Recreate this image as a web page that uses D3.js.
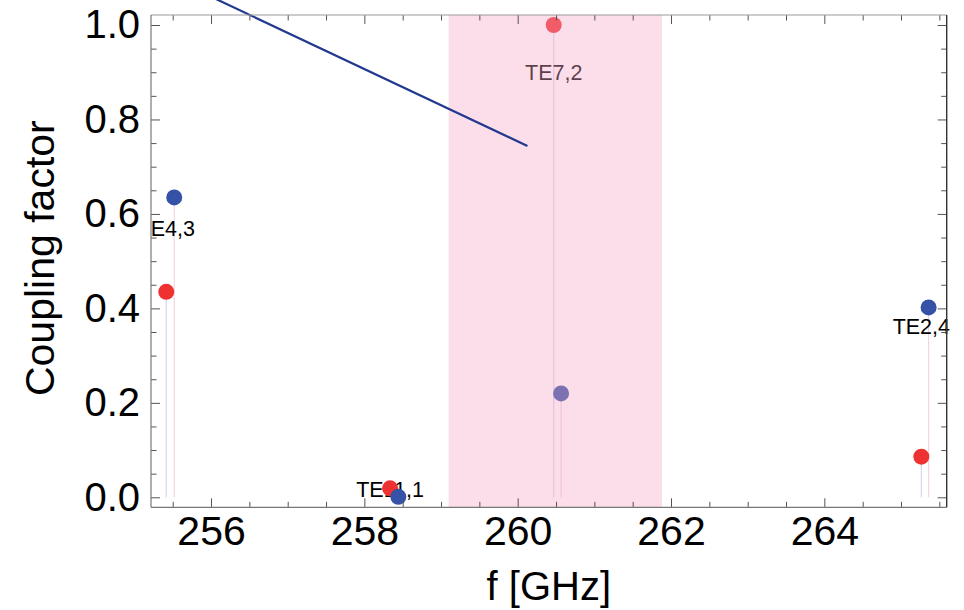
<!DOCTYPE html>
<html>
<head>
<meta charset="utf-8">
<script src="https://cdn.jsdelivr.net/npm/d3@7"></script>
<style>
  html, body { margin: 0; padding: 0; background: #fff; }
  svg { display: block; font-family: "Liberation Sans", Arial, Helvetica, sans-serif; }
</style>
</head>
<body>
<svg id="chart" width="964" height="610"></svg>
<script>
// ---- data ----
const modes = ["TE4,3", "TE11,1", "TE7,2", "TE2,4"];
const redX  = [255.416, 258.335, 260.47, 265.265];
const redY  = [0.435, 0.019, 1.0, 0.086];
const blueX = [255.52, 258.443, 260.566, 265.36];
const blueY = [0.635, 0.001, 0.220, 0.402];
const labelY = [0.570, 0.0176, 0.900, 0.363];
const bandRange = [259.10, 261.883];
const lineX = [256.0, 260.127];
const lineY = [1.060, 0.744];
const xMajorTicks = [256, 258, 260, 262, 264];
const xMinorTicks = [255.5, 256.5, 257, 257.5, 258.5, 259, 259.5, 260.5, 261, 261.5, 262.5, 263, 263.5, 264.5, 265, 265.5];
const yMajorTicks = [0, 0.2, 0.4, 0.6, 0.8, 1.0];
const yMinorTicks = [0.05, 0.1, 0.15, 0.25, 0.3, 0.35, 0.45, 0.5, 0.55, 0.65, 0.7, 0.75, 0.85, 0.9, 0.95];
const xTitle = "f [GHz]";
const yTitle = "Coupling factor";

// ---- layout ----
const L = 151, R = 946.7, T = 15, B = 507.3;
const svg = d3.select("#chart");
const x = d3.scaleLinear().domain([255.217, 265.596]).range([L, R]);
const y = d3.scaleLinear().domain([-0.0212, 1.0212]).range([B, T]);

const defs = svg.append("defs");
defs.append("clipPath").attr("id", "lblclip")
  .append("rect").attr("x", L).attr("y", 0).attr("width", 964 - L).attr("height", 610);

const red = "#ee3131", blue = "#3552a6";

// stems
const stems = svg.append("g");
redX.forEach((v, i) => {
  stems.append("line").attr("x1", x(v)).attr("x2", x(v)).attr("y1", y(redY[i])).attr("y2", y(0))
    .attr("stroke", "#d6d6ee").attr("stroke-width", 1.2);
});
blueX.forEach((v, i) => {
  stems.append("line").attr("x1", x(v)).attr("x2", x(v)).attr("y1", y(blueY[i])).attr("y2", y(0))
    .attr("stroke", "#f2d6e0").attr("stroke-width", 1.2);
});

// labels
svg.append("g").attr("clip-path", "url(#lblclip)")
  .selectAll("text").data(modes).join("text")
  .attr("x", (d, i) => x(redX[i]))
  .attr("y", (d, i) => y(labelY[i]))
  .attr("dy", "0.36em")
  .attr("text-anchor", "middle")
  .attr("font-size", 21.5)
  .attr("fill", "#000")
  .text(d => d);

// points
svg.append("g").selectAll("circle").data(redX).join("circle")
  .attr("cx", d => x(d)).attr("cy", (d, i) => y(redY[i])).attr("r", 8).attr("fill", red);
svg.append("g").selectAll("circle").data(blueX).join("circle")
  .attr("cx", d => x(d)).attr("cy", (d, i) => y(blueY[i])).attr("r", 8).attr("fill", blue);

// pink band overlay
svg.append("rect")
  .attr("x", x(bandRange[0])).attr("width", x(bandRange[1]) - x(bandRange[0]))
  .attr("y", T).attr("height", B - T)
  .attr("fill", "rgb(244,167,196)").attr("fill-opacity", 0.375);

// line
svg.append("path")
  .datum(lineX.map((v, i) => [v, lineY[i]]))
  .attr("d", d3.line().x(d => x(d[0])).y(d => y(d[1])))
  .attr("fill", "none").attr("stroke", "#22398f").attr("stroke-width", 2.2);

// axes / frame
function styleAxis(g) {
  g.select(".domain").remove();
  g.selectAll(".tick line").attr("stroke", "#555").attr("stroke-width", 1);
  g.selectAll("text").attr("font-family", "\"Liberation Sans\", Arial, Helvetica, sans-serif").attr("fill", "#000");
}
const noLbl = () => "";

svg.append("g").attr("transform", `translate(0,${B})`)
  .call(d3.axisBottom(x).tickValues(xMajorTicks).tickSize(-9).tickPadding(9).tickFormat(d3.format("d")))
  .call(styleAxis).call(g => g.selectAll("text").attr("font-size", 41));
svg.append("g").attr("transform", `translate(0,${B})`)
  .call(d3.axisBottom(x).tickValues(xMinorTicks).tickSize(-5.5).tickFormat(noLbl)).call(styleAxis);
svg.append("g").attr("transform", `translate(0,${T})`)
  .call(d3.axisTop(x).tickValues(xMajorTicks).tickSize(-9).tickFormat(noLbl)).call(styleAxis);
svg.append("g").attr("transform", `translate(0,${T})`)
  .call(d3.axisTop(x).tickValues(xMinorTicks).tickSize(-5.5).tickFormat(noLbl)).call(styleAxis);

svg.append("g").attr("transform", `translate(${L},0)`)
  .call(d3.axisLeft(y).tickValues(yMajorTicks).tickSize(-9).tickPadding(11).tickFormat(d3.format(".1f")))
  .call(styleAxis).call(g => g.selectAll("text").attr("font-size", 40));
svg.append("g").attr("transform", `translate(${L},0)`)
  .call(d3.axisLeft(y).tickValues(yMinorTicks).tickSize(-5.5).tickFormat(noLbl)).call(styleAxis);
svg.append("g").attr("transform", `translate(${R},0)`)
  .call(d3.axisRight(y).tickValues(yMajorTicks).tickSize(-9).tickFormat(noLbl)).call(styleAxis);
svg.append("g").attr("transform", `translate(${R},0)`)
  .call(d3.axisRight(y).tickValues(yMinorTicks).tickSize(-5.5).tickFormat(noLbl)).call(styleAxis);

svg.append("line").attr("x1", L).attr("x2", R).attr("y1", T).attr("y2", T).attr("stroke", "#999").attr("stroke-width", 1.2);
svg.append("line").attr("x1", L).attr("x2", R).attr("y1", B).attr("y2", B).attr("stroke", "#777").attr("stroke-width", 1.2);
svg.append("line").attr("x1", L).attr("x2", L).attr("y1", T).attr("y2", B).attr("stroke", "#777").attr("stroke-width", 1.2);
svg.append("line").attr("x1", R).attr("x2", R).attr("y1", T).attr("y2", B).attr("stroke", "#333").attr("stroke-width", 1.4);

// titles
svg.append("text").attr("x", (L + R) / 2).attr("y", 600).attr("text-anchor", "middle")
  .attr("font-size", 40).attr("fill", "#000").text(xTitle);
svg.append("text").attr("transform", `translate(54,${(T + B) / 2 - 3}) rotate(-90)`)
  .attr("text-anchor", "middle").attr("font-size", 41).attr("fill", "#000").text(yTitle);
</script>
</body>
</html>
